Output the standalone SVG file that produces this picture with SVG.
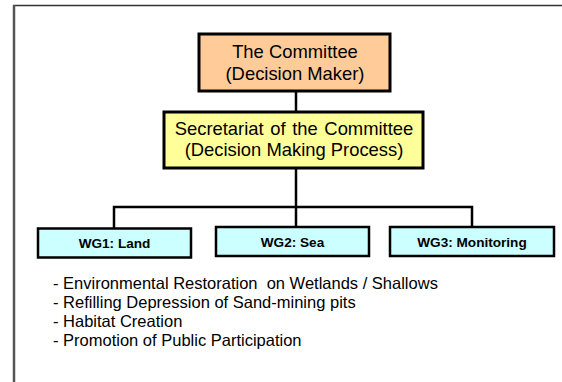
<svg xmlns="http://www.w3.org/2000/svg" width="562" height="382" viewBox="0 0 562 382">
<style>
.box{stroke:#000;stroke-width:3}
.wg{stroke:#000;stroke-width:2.5;fill:#CCFFFF}
.t{font-family:"Liberation Sans",Arial,sans-serif;font-size:18.4px;fill:#000;text-anchor:middle}
.w{font-family:"Liberation Sans",Arial,sans-serif;font-size:13.6px;font-weight:bold;fill:#000;text-anchor:middle}
.l{font-family:"Liberation Sans",Arial,sans-serif;font-size:16.5px;fill:#000}
.c{stroke:#000;stroke-width:2.5;fill:none}
</style>
<rect width="562" height="382" fill="#fff"/>
<g id="frame">
<line x1="13" y1="5.5" x2="562" y2="5.5" stroke="#333" stroke-width="1.5"/>
<line x1="14" y1="5" x2="14" y2="382" stroke="#555" stroke-width="2.5"/>
</g>
<g id="connectors">
<line class="c" x1="296" y1="91" x2="296" y2="111"/>
<line class="c" x1="296" y1="168" x2="296" y2="227"/>
<polyline class="c" points="114,228 114,207 472,207 472,227"/>
</g>
<g id="committee">
<rect class="box" x="199" y="34" width="191" height="57" fill="#FFCC99"/>
<text class="t" x="295" y="58">The Committee</text>
<text class="t" x="295" y="80">(Decision Maker)</text>
</g>
<g id="secretariat">
<rect class="box" x="164" y="112" width="259" height="56" fill="#FFFF99"/>
<text class="t" x="294" y="135" word-spacing="1.5">Secretariat of the Committee</text>
<text class="t" x="294" y="156">(Decision Making Process)</text>
</g>
<g id="wg1">
<rect class="wg" x="38" y="228.5" width="153" height="29"/>
<text class="w" x="114.5" y="248">WG1: Land</text>
</g>
<g id="wg2">
<rect class="wg" x="216" y="227" width="153" height="29"/>
<text class="w" x="292.5" y="247">WG2: Sea</text>
</g>
<g id="wg3">
<rect class="wg" x="390" y="227" width="164" height="29"/>
<text class="w" x="472" y="247">WG3: Monitoring</text>
</g>
<g id="list">
<text class="l" x="53" y="289" xml:space="preserve">- Environmental Restoration  on Wetlands / Shallows</text>
<text class="l" x="53" y="308">- Refilling Depression of Sand-mining pits</text>
<text class="l" x="53" y="327">- Habitat Creation</text>
<text class="l" x="53" y="346">- Promotion of Public Participation</text>
</g>
</svg>
